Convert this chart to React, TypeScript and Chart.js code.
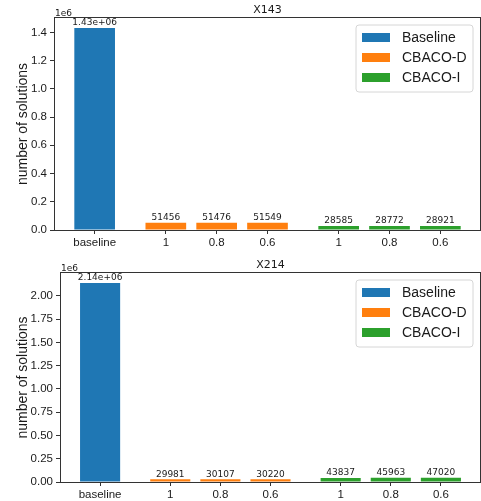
import React, { useEffect, useRef } from "react";
import { Chart, registerables } from "chart.js";
Chart.register(...registerables);

const seriesNames = ["Baseline", "CBACO-D", "CBACO-I"];
const seriesColors = ["#1f77b4", "#ff7f0e", "#2ca02c"];
const baselinePos = [0];
const dPos = [1.4, 2.4, 3.4];
const iPos = [4.8, 5.8, 6.8];
const xTickLabels = ["baseline", "1", "0.8", "0.6", "1", "0.8", "0.6"];

const x143Baseline = [1430000];
const x143D = [51456, 51476, 51549];
const x143I = [28585, 28772, 28921];
const x143YTicks = [0, 0.2, 0.4, 0.6, 0.8, 1.0, 1.2, 1.4];

const x214Baseline = [2140000];
const x214D = [29981, 30107, 30220];
const x214I = [43837, 45963, 47020];
const x214YTicks = [0, 0.25, 0.5, 0.75, 1.0, 1.25, 1.5, 1.75, 2.0];

const SANS = "'Liberation Sans', Arial, sans-serif";
const DEJAVU = "'DejaVu Sans', sans-serif";
const TEXT = "#1a1a1a";
const FRAME = "#333333";

function fmtG(v: number): string {
  if (Math.abs(v) >= 1e6) {
    return v.toExponential(2).replace(/e([+-])(\d)$/, "e$10$2");
  }
  return String(v);
}

type PanelCfg = {
  title: string;
  baseline: number[];
  d: number[];
  i: number[];
  yTicks: number[];
  decimals: number;
  height: number;
  padTop: number;
  axisW: number;
  axisH: number;
  yTitleX: number;
};

const overlayPlugin = {
  id: "overlay",
  afterDraw(chart: any, _args: any, opts: any) {
    const { ctx, chartArea } = chart;
    const { left, right, top, bottom } = chartArea;
    ctx.save();
    // frame
    ctx.strokeStyle = FRAME;
    ctx.lineWidth = 1;
    ctx.strokeRect(left - 0.5, top - 0.5, right - left + 1, bottom - top + 1);
    // bar labels
    ctx.fillStyle = TEXT;
    ctx.font = `9px ${DEJAVU}`;
    ctx.textAlign = "center";
    ctx.textBaseline = "bottom";
    chart.data.datasets.forEach((ds: any, di: number) => {
      const meta = chart.getDatasetMeta(di);
      meta.data.forEach((el: any, k: number) => {
        ctx.fillText(fmtG(ds.data[k].y), el.x, el.y - 0.5);
      });
    });
    // title
    ctx.font = `11px ${DEJAVU}`;
    ctx.textBaseline = "alphabetic";
    ctx.fillText(opts.title, (left + right) / 2, top - 5);
    // offset text
    ctx.font = `9px ${DEJAVU}`;
    ctx.textAlign = "left";
    ctx.fillText("1e6", left, top - 2);
    // y title
    ctx.save();
    ctx.translate(opts.yTitleX, (top + bottom) / 2);
    ctx.rotate(-Math.PI / 2);
    ctx.font = `14px ${SANS}`;
    ctx.textAlign = "center";
    ctx.textBaseline = "middle";
    ctx.fillText("number of solutions", 0, 0);
    ctx.restore();
    // legend
    const bw = 117, bh = 67;
    const bx = right - 7 - bw, by = top + 7;
    ctx.beginPath();
    const r = 3;
    ctx.moveTo(bx + r, by);
    ctx.lineTo(bx + bw - r, by);
    ctx.arcTo(bx + bw, by, bx + bw, by + r, r);
    ctx.lineTo(bx + bw, by + bh - r);
    ctx.arcTo(bx + bw, by + bh, bx + bw - r, by + bh, r);
    ctx.lineTo(bx + r, by + bh);
    ctx.arcTo(bx, by + bh, bx, by + bh - r, r);
    ctx.lineTo(bx, by + r);
    ctx.arcTo(bx, by, bx + r, by, r);
    ctx.closePath();
    ctx.fillStyle = "rgba(255,255,255,0.8)";
    ctx.fill();
    ctx.strokeStyle = "#d6d6d6";
    ctx.stroke();
    ctx.font = `14px ${SANS}`;
    ctx.textAlign = "left";
    ctx.textBaseline = "middle";
    chart.data.datasets.forEach((ds: any, di: number) => {
      const cy = by + 12.5 + di * 20;
      ctx.fillStyle = ds.backgroundColor;
      ctx.fillRect(bx + 6, cy - 4.5, 28, 9);
      ctx.fillStyle = TEXT;
      ctx.fillText(ds.label, bx + 46, cy + 0.5);
    });
    ctx.restore();
  },
};

function BarPanel({ cfg }: { cfg: PanelCfg }) {
  const ref = useRef<HTMLCanvasElement>(null);
  useEffect(() => {
    const positions = [...baselinePos, ...dPos, ...iPos];
    const all = [...cfg.baseline, ...cfg.d, ...cfg.i];
    const lo = Math.min(...positions) - 0.4;
    const hi = Math.max(...positions) + 0.4;
    const m = (hi - lo) * 0.05;
    const yMax = Math.max(...all) * 1.05;
    const mk = (pos: number[], vals: number[]) => pos.map((x, k) => ({ x, y: vals[k] }));
    const chart = new Chart(ref.current!, {
      type: "bar",
      data: {
        datasets: [
          { label: seriesNames[0], data: mk(baselinePos, cfg.baseline), backgroundColor: seriesColors[0] },
          { label: seriesNames[1], data: mk(dPos, cfg.d), backgroundColor: seriesColors[1] },
          { label: seriesNames[2], data: mk(iPos, cfg.i), backgroundColor: seriesColors[2] },
        ] as any,
      },
      plugins: [overlayPlugin],
      options: {
        animation: false,
        responsive: false,
        devicePixelRatio: 1,
        layout: { padding: { top: cfg.padTop, right: 1, left: 0, bottom: 0 } },
        datasets: { bar: { grouped: false, categoryPercentage: 1, barPercentage: 0.8 } } as any,
        plugins: {
          legend: { display: false },
          title: { display: false },
          tooltip: { enabled: false },
          overlay: { title: cfg.title, yTitleX: cfg.yTitleX },
        } as any,
        scales: {
          x: {
            type: "linear",
            min: lo - m,
            max: hi + m,
            offset: false,
            grid: { offset: false, drawOnChartArea: false, drawTicks: true, tickLength: 4, color: FRAME },
            border: { display: false },
            afterBuildTicks: (axis: any) => {
              axis.ticks = positions.map((v) => ({ value: v }));
            },
            afterFit: (axis: any) => {
              axis.height = cfg.axisH;
            },
            ticks: {
              autoSkip: false,
              maxRotation: 0,
              padding: 2,
              color: TEXT,
              font: { family: SANS, size: 11.5 },
              callback: (_v: any, idx: number) => xTickLabels[idx],
            },
          },
          y: {
            type: "linear",
            min: 0,
            max: yMax,
            grid: { drawOnChartArea: false, drawTicks: true, tickLength: 5, color: FRAME },
            border: { display: false },
            afterBuildTicks: (axis: any) => {
              axis.ticks = cfg.yTicks.map((v) => ({ value: v * 1e6 }));
            },
            afterFit: (axis: any) => {
              axis.width = cfg.axisW;
            },
            ticks: {
              padding: 3,
              color: TEXT,
              font: { family: SANS, size: 11.5 },
              callback: (v: any) => (Number(v) / 1e6).toFixed(cfg.decimals),
            },
          },
        } as any,
      },
    });
    return () => chart.destroy();
  }, []);
  return (
    <canvas
      ref={ref}
      width={481}
      height={cfg.height}
      style={{ display: "block", width: 481, height: cfg.height }}
    />
  );
}

const topCfg: PanelCfg = {
  title: "X143",
  baseline: x143Baseline,
  d: x143D,
  i: x143I,
  yTicks: x143YTicks,
  decimals: 1,
  height: 250,
  padTop: 18,
  axisW: 55,
  axisH: 20,
  yTitleX: 23,
};

const bottomCfg: PanelCfg = {
  title: "X214",
  baseline: x214Baseline,
  d: x214D,
  i: x214I,
  yTicks: x214YTicks,
  decimals: 2,
  height: 251,
  padTop: 23,
  axisW: 61,
  axisH: 19,
  yTitleX: 23,
};

export default function App() {
  return (
    <div style={{ position: "absolute", left: 0, top: 0, width: 481, height: 501, background: "#fff" }}>
      <BarPanel cfg={topCfg} />
      <BarPanel cfg={bottomCfg} />
    </div>
  );
}
